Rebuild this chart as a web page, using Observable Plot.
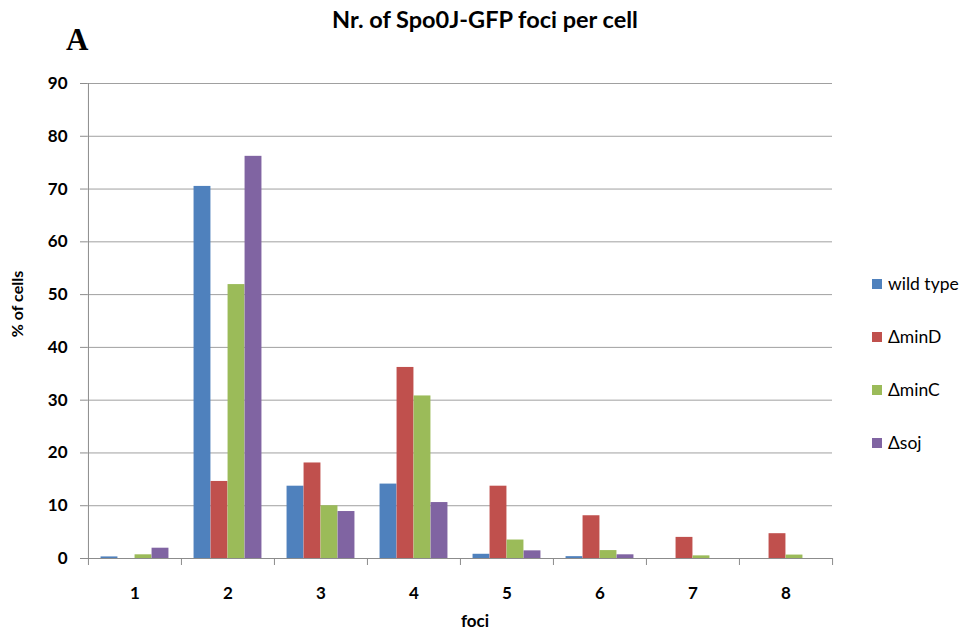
<!DOCTYPE html>
<html>
<head>
<meta charset="utf-8">
<script src="https://cdn.jsdelivr.net/npm/d3@7"></script>
<script src="https://cdn.jsdelivr.net/npm/@observablehq/plot@0.6"></script>
<style>
  body { margin: 0; background: #fff; }
  #chart svg text { font-family: Lato, "Open Sans", sans-serif; font-weight: bold; font-size: 17px; fill: #000; }
  #chart svg text.legend { font-weight: normal; font-size: 17.5px; }
  #chart svg text.title { font-size: 23.5px; }
  #chart svg text.ylab { font-size: 16px; }
  #chart svg text.panel { font-family: "Liberation Serif", "DejaVu Serif", serif; font-size: 31px; }
</style>
</head>
<body>
<div id="chart"></div>
<script>
const foci = ["1", "2", "3", "4", "5", "6", "7", "8"];
const seriesNames = ["wild type", "ΔminD", "ΔminC", "Δsoj"];
const seriesColors = ["#4F81BD", "#C0504D", "#9BBB59", "#8064A2"];
const wildType = [0.3, 70.5, 13.7, 14.1, 0.8, 0.35, 0, 0];
const minD = [0, 14.6, 18.1, 36.2, 13.7, 8.1, 4.0, 4.7];
const minC = [0.7, 51.9, 10.0, 30.8, 3.5, 1.5, 0.5, 0.65];
const soj = [1.95, 76.2, 8.9, 10.6, 1.45, 0.7, 0, 0];
const yTicks = [0, 10, 20, 30, 40, 50, 60, 70, 80, 90];
const titleText = "Nr. of Spo0J-GFP foci per cell";
const xLabel = "foci";
const yLabel = "% of cells";
const panelLabel = "A";

const seriesValues = [wildType, minD, minC, soj];

const W = 965, H = 635, mL = 87, mR = 133, mT = 83, mB = 77;
const plotW = W - mL - mR, plotH = H - mT - mB;
const bw = plotW / foci.length;
const barW = bw * 0.1826;
const off = (bw - seriesNames.length * barW) / 2;
const gridColor = "#a0a0a0";
const axisColor = "#8c8c8c";

const barMarks = seriesNames.map((name, i) =>
  Plot.barY(foci.map((f, j) => ({foci: f, value: seriesValues[i][j], series: name})), {
    x: "foci",
    y: "value",
    fill: seriesColors[i],
    insetLeft: off + i * barW,
    insetRight: bw - off - (i + 1) * barW
  })
);

const chart = Plot.plot({
  width: W,
  height: H,
  marginLeft: mL,
  marginRight: mR,
  marginTop: mT,
  marginBottom: mB,
  x: {domain: foci, padding: 0, tickSize: 0, tickPadding: 28, label: null},
  y: {domain: [0, 90], ticks: yTicks, tickSize: 0, tickPadding: 20, tickFormat: d => String(d), label: null},
  marks: [
    Plot.ruleY(yTicks.slice(1), {stroke: gridColor}),
    ...barMarks,
    Plot.ruleY([0], {stroke: axisColor}),
    Plot.ruleY(yTicks, {stroke: axisColor, insetLeft: -7, insetRight: plotW}),
    Plot.ruleX([foci[0]], {stroke: axisColor, dx: -bw / 2, insetBottom: -7}),
    Plot.ruleX(foci.slice(1), {stroke: axisColor, dx: -bw / 2, insetTop: plotH, insetBottom: -7}),
    Plot.ruleX([foci[foci.length - 1]], {stroke: axisColor, dx: bw / 2, insetTop: plotH, insetBottom: -7})
  ]
});

document.getElementById("chart").appendChild(chart);
const svg = d3.select(chart);

svg.append("text").attr("class", "title").attr("x", 485).attr("y", 28)
  .attr("text-anchor", "middle").text(titleText);
svg.append("text").attr("class", "panel").attr("x", 66).attr("y", 50)
  .attr("text-anchor", "start").text(panelLabel);
svg.append("text").attr("x", 475).attr("y", 627).attr("text-anchor", "middle").text(xLabel);
svg.append("text").attr("class", "ylab").attr("transform", "translate(23,304) rotate(-90)")
  .attr("text-anchor", "middle").text(yLabel);

const legend = svg.append("g");
seriesNames.forEach((name, i) => {
  const cy = 284 + 53 * i;
  legend.append("rect").attr("x", 872).attr("y", cy - 5).attr("width", 10).attr("height", 10)
    .attr("fill", seriesColors[i]);
  legend.append("text").attr("class", "legend").attr("x", 888).attr("y", cy + 6)
    .attr("text-anchor", "start").text(name);
});
</script>
</body>
</html>
